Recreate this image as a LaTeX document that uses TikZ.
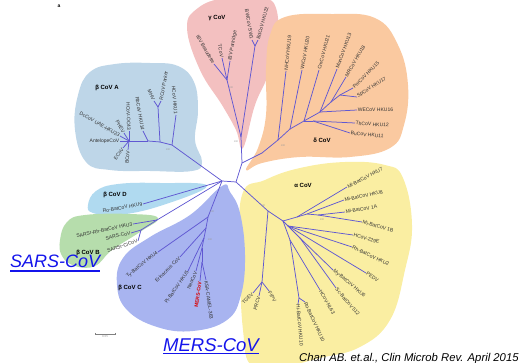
\documentclass[tikz,border=0pt]{standalone}
\usepackage{fontspec}
\setmainfont{Liberation Sans}
\usetikzlibrary{positioning}
\definecolor{treeline}{RGB}{96,88,210}
\definecolor{cladeA}{RGB}{190,214,232}
\definecolor{cladeGam}{RGB}{243,192,192}
\definecolor{cladeDel}{RGB}{250,201,160}
\definecolor{cladeAlp}{RGB}{250,238,162}
\definecolor{cladeD}{RGB}{176,218,240}
\definecolor{cladeB}{RGB}{182,221,172}
\definecolor{cladeC}{RGB}{168,180,240}
\definecolor{linkblue}{RGB}{20,20,235}
\tikzset{
    branch/.style={draw=treeline, line width=0.75pt},
    leafL/.style={anchor=west, inner sep=0.6pt, text=black!80, font=\fontsize{5}{5}\selectfont},
    leafR/.style={anchor=east, inner sep=0.6pt, text=black!80, font=\fontsize{5}{5}\selectfont},
    grouplabel/.style={inner sep=0pt, font=\bfseries\fontsize{6}{6}\selectfont},
    boot/.style={inner sep=0pt, text=black!40, font=\fontsize{2.5}{2.5}\selectfont},
    bigname/.style={anchor=base west, inner sep=0pt, text=linkblue, font=\itshape\fontsize{#1}{#1}\selectfont},
    bigname/.default={18}
}
\begin{document}
\begin{tikzpicture}[x=1pt, y=-1pt]
    \useasboundingbox (0,0) rectangle (523,363);
    % clade backgrounds
    \fill[cladeA] plot[smooth cycle, tension=0.7] coordinates {(75,130) (78,95) (90,72) (115,64) (150,63) (178,66) (194,82) (198,110) (195,140) (202,162) (192,171) (150,171) (110,170) (86,162)};
    \fill[cladeGam] plot[smooth cycle, tension=0.7] coordinates {(187,28) (198,8) (225,-2) (262,-2) (276,8) (277,40) (268,75) (255,105) (243,148) (236,130) (222,105) (200,70)};
    \fill[cladeDel] plot[smooth cycle, tension=0.7] coordinates {(270,35) (285,17) (330,14) (375,18) (398,45) (408,85) (404,125) (390,148) (350,157) (300,157) (262,163) (246,170) (258,148) (266,115) (266,70)};
    \fill[cladeAlp] plot[smooth cycle, tension=0.7] coordinates {(242,195) (265,180) (300,168) (345,162) (385,165) (403,178) (412,225) (405,270) (390,320) (360,347) (320,358) (285,366) (252,366) (243,330) (240,260)};
    \fill[cladeD] plot[smooth cycle, tension=0.7] coordinates {(88,205) (96,191) (118,184) (160,183) (207,186) (160,206) (118,215) (93,213)};
    \fill[cladeB] plot[smooth cycle, tension=0.7] coordinates {(60,240) (67,222) (85,215) (130,214) (158,218) (140,232) (112,250) (95,266) (75,266) (62,256)};
    \fill[cladeC] plot[smooth cycle, tension=0.7] coordinates {(222,186) (190,215) (150,237) (123,258) (117,285) (127,310) (157,327) (193,331) (227,320) (241,295) (245,255) (240,213) (230,192)};

    % root and inner nodes
    \coordinate (r1) at (222,181);
    \coordinate (r2) at (236,182);
    \coordinate (gd) at (242,163);
    \coordinate (a1) at (172,145);
    \coordinate (a2) at (160,142);
    \coordinate (a3) at (158,107);
    \coordinate (a4) at (148,141);
    \coordinate (a5) at (129,141);
    \coordinate (b1) at (157,220);
    \coordinate (b2) at (141,230);
    \coordinate (c1) at (208,217);
    \coordinate (c2) at (206,228);
    \coordinate (c3) at (204,238);
    \coordinate (c4) at (202,248);
    \coordinate (c5) at (202,262);
    \coordinate (g1) at (241,137);
    \coordinate (g2) at (227,80);
    \coordinate (g3) at (255,46);
    \coordinate (d0) at (262,153);
    \coordinate (d1) at (278,140);
    \coordinate (d2) at (290,129);
    \coordinate (d3) at (304,121);
    \coordinate (d4) at (313,121);
    \coordinate (d5) at (320,112);
    \coordinate (d6) at (331,102);
    \coordinate (d7) at (340,95);
    \coordinate (al1) at (268,211);
    \coordinate (al2) at (262,282);
    \coordinate (al4) at (283,221);
    \coordinate (al5) at (297,217);
    \coordinate (al6) at (307,214);
    \coordinate (al7) at (318,215);
    \coordinate (al8) at (288,226);
    \coordinate (al9) at (300,238);
    \coordinate (al10) at (290,240);
    \coordinate (al11) at (299,298);

    % leaves
    \coordinate (lHKU1) at (176,115);
    \coordinate (lMHV) at (154,101);
    \coordinate (lRCoV) at (161,101);
    \coordinate (lRb) at (143,131);
    \coordinate (lOC43) at (129,131);
    \coordinate (lPHEV) at (124,133);
    \coordinate (lDc) at (120,136);
    \coordinate (lAnt) at (120,141);
    \coordinate (lECoV) at (123,148);
    \coordinate (lBCoV) at (128,150);
    \coordinate (lHKU9) at (143,204);
    \coordinate (lHKU3) at (133,224);
    \coordinate (lSARS) at (131,233);
    \coordinate (lCiv) at (138,241);
    \coordinate (lTy) at (158,252);
    \coordinate (lErin) at (180,257);
    \coordinate (lPi) at (188,271);
    \coordinate (lNeo) at (196,271);
    \coordinate (lMERS) at (200,281);
    \coordinate (lKSA) at (206,280);
    \coordinate (lBeau) at (214,64);
    \coordinate (lTCoV) at (222,58);
    \coordinate (lPart) at (230,61);
    \coordinate (lBW) at (252,40);
    \coordinate (lBd) at (258,40);
    \coordinate (lNH) at (286,71);
    \coordinate (lWi) at (302,70);
    \coordinate (lCm) at (319,70);
    \coordinate (lMun) at (337,69);
    \coordinate (lMR) at (346,77);
    \coordinate (lPor) at (353,88);
    \coordinate (lSp) at (357,97);
    \coordinate (lWE) at (357,110);
    \coordinate (lTh) at (355,123);
    \coordinate (lBu) at (350,133);
    \coordinate (lTGEV) at (253,293);
    \coordinate (lPRCV) at (259,296);
    \coordinate (lFIPV) at (269,291);
    \coordinate (lHKU7) at (347,187);
    \coordinate (lHKU8) at (344,200);
    \coordinate (l1A) at (345,212);
    \coordinate (l1B) at (362,222);
    \coordinate (l229E) at (353,235);
    \coordinate (lHKU2) at (352,247);
    \coordinate (lPEDV) at (366,273);
    \coordinate (lHKU6) at (333,270);
    \coordinate (l512) at (336,288);
    \coordinate (lNL63) at (320,290);
    \coordinate (lHi) at (298,304);
    \coordinate (lRo) at (305,302);

    % branches
    \foreach \u/\v in {r1/r2, r1/a1, a1/lHKU1, a1/a2, a2/a3, a3/lMHV, a3/lRCoV, a2/a4, a4/lRb, a4/a5,
        a5/lOC43, a5/lPHEV, a5/lDc, a5/lAnt, a5/lECoV, a5/lBCoV,
        r1/lHKU9, r1/b1, b1/lHKU3, b1/b2, b2/lSARS, b2/lCiv,
        r1/c1, c1/lTy, c1/c2, c2/lErin, c2/c3, c3/lPi, c3/c4, c4/lNeo, c4/c5, c5/lMERS, c5/lKSA,
        r2/gd, gd/g1, g1/g2, g1/g3, g2/lBeau, g2/lTCoV, g2/lPart, g3/lBW, g3/lBd,
        gd/d0, d0/d1, d1/d2, d2/d3, d3/d4, d3/d5, d5/d6, d6/d7,
        d1/lNH, d2/lWi, d3/lCm, d4/lTh, d4/lBu, d5/lWE, d5/lMun, d6/lMR, d7/lPor, d7/lSp,
        r2/al1, al1/al2, al2/lTGEV, al2/lPRCV, al2/lFIPV,
        al1/al4, al4/al5, al5/lHKU7, al5/al6, al6/lHKU8, al6/al7, al7/l1A, al7/l1B,
        al4/al8, al8/l229E, al8/lHKU2, al8/lPEDV, al8/al9, al9/lHKU6, al9/l512,
        al4/al10, al10/lNL63, al10/al11, al11/lHi, al11/lRo}
        \draw[branch] (\u) -- (\v);

    % bootstrap values
    \foreach \x/\y [count=\i] in {236/142, 231/88, 283/146, 263/206, 322/220, 212/212, 210/240, 168/150}
        \node[boot] (bs\i) at (\x,\y) {100};

    % labels, beta A
    \node[leafR, rotate=-85] (tHKU1) at (lHKU1) {HCoV HKU1};
    \node[leafR, rotate=-65] (tMHV) at (lMHV) {MHV};
    \node[leafL, rotate=80] (tRCoV) at (lRCoV) {RCoV Parker};
    \node[leafR, rotate=-80] (tRb) at (lRb) {RbCoV HKU14};
    \node[leafR, rotate=-88] (tOC43) at (lOC43) {HCoV-OC43};
    \node[leafR, rotate=-60] (tPHEV) at (lPHEV) {PHEV};
    \node[leafR, rotate=-30] (tDc) at (lDc) {DcCoV UAE-HKU23};
    \node[leafR] (tAnt) at (lAnt) {AntelopeCoV};
    \node[leafR, rotate=55] (tECoV) at (lECoV) {ECoV};
    \node[leafR, rotate=85] (tBCoV) at (lBCoV) {BCoV};
    % beta D, B, C
    \node[leafR, rotate=10] (tHKU9) at (lHKU9) {Ro-BatCoV HKU9};
    \node[leafR, rotate=12] (tHKU3) at (lHKU3) {SARSr-Rh-BatCoV HKU3};
    \node[leafR, rotate=12] (tSARS) at (lSARS) {SARS-CoV};
    \node[leafR, rotate=18] (tCiv) at (lCiv) {SARSr-CiCoV};
    \node[leafR, rotate=39] (tTy) at (lTy) {Ty-BatCoV HKU4};
    \node[leafR, rotate=45] (tErin) at (lErin) {Erinaceus CoV};
    \node[leafR, rotate=55] (tPi) at (lPi) {Pi-BatCoV HKU5};
    \node[leafR, rotate=68] (tNeo) at (lNeo) {NeoCoV};
    \node[leafR, rotate=82, text=red!85!black, font=\bfseries\fontsize{5}{5}\selectfont] (tMERS) at (lMERS) {MERS-CoV};
    \node[leafL, rotate=-82] (tKSA) at (lKSA) {KSA-CAMEL-363};
    % gamma
    \node[leafR, rotate=-60] (tBeau) at (lBeau) {IBV Beaudette};
    \node[leafR, rotate=-80] (tTCoV) at (lTCoV) {TCoV};
    \node[leafL, rotate=80] (tPart) at (lPart) {IBV Partridge};
    \node[leafR, rotate=-80] (tBW) at (lBW) {BWCoV SW1};
    \node[leafL, rotate=75] (tBd) at (lBd) {BdCoV HKU22};
    % delta
    \node[leafL, rotate=84] (tNH) at (lNH) {NHCoV HKU19};
    \node[leafL, rotate=80] (tWi) at (lWi) {WiCoV HKU20};
    \node[leafL, rotate=75] (tCm) at (lCm) {CmCoV HKU21};
    \node[leafL, rotate=70] (tMun) at (lMun) {MunCoV HKU13};
    \node[leafL, rotate=60] (tMR) at (lMR) {MRCoV HKU18};
    \node[leafL, rotate=45] (tPor) at (lPor) {PorCoV HKU15};
    \node[leafL, rotate=32] (tSp) at (lSp) {SpCoV HKU17};
    \node[leafL] (tWE) at (lWE) {WECoV HKU16};
    \node[leafL, rotate=-4] (tTh) at (lTh) {ThCoV HKU12};
    \node[leafL, rotate=-6] (tBu) at (lBu) {BuCoV HKU11};
    % alpha
    \node[leafR, rotate=45] (tTGEV) at (lTGEV) {TGEV};
    \node[leafR, rotate=75] (tPRCV) at (lPRCV) {PRCV};
    \node[leafL, rotate=-60] (tFIPV) at (lFIPV) {FIPV};
    \node[leafL, rotate=27] (tHKU7) at (lHKU7) {Mi-BatCoV HKU7};
    \node[leafL, rotate=12] (tHKU8) at (lHKU8) {Mi-BatCoV HKU8};
    \node[leafL, rotate=10] (t1A) at (l1A) {Mi-BatCoV 1A};
    \node[leafL, rotate=-15] (t1B) at (l1B) {Mi-BatCoV 1B};
    \node[leafL, rotate=-15] (t229E) at (l229E) {HCoV-229E};
    \node[leafL, rotate=-25] (tHKU2) at (lHKU2) {Rh-BatCoV HKU2};
    \node[leafL, rotate=-32] (tPEDV) at (lPEDV) {PEDV};
    \node[leafL, rotate=-40] (tHKU6) at (lHKU6) {My-BatCoV HKU6};
    \node[leafL, rotate=-50] (t512) at (l512) {Sc-BatCoV 512};
    \node[leafL, rotate=-60] (tNL63) at (lNL63) {HCoV-NL63};
    \node[leafL, rotate=-85] (tHi) at (lHi) {Hi-BatCoV HKU10};
    \node[leafL, rotate=-65] (tRo) at (lRo) {Ro-BatCoV HKU10};

    % clade names
    \node[grouplabel] (nA) at (107,88) {β CoV A};
    \node[grouplabel] (nGam) at (217,18) {γ CoV};
    \node[grouplabel] (nDel) at (322,140) {δ CoV};
    \node[grouplabel] (nAlp) at (303,185) {α CoV};
    \node[grouplabel] (nD) at (115,195) {β CoV D};
    \node[grouplabel] (nB) at (88,253) {β CoV B};
    \node[grouplabel] (nC) at (130,288) {β CoV C};

    % panel letter and scale bar
    \node[inner sep=0pt, font=\bfseries\fontsize{5}{5}\selectfont] (panel) at (59,6) {a};
    \coordinate (sb1) at (95,334);
    \coordinate (sb2) at (115,334);
    \coordinate (sbm) at (105,334);
    \draw[black!50, line width=0.4pt] (sb1) -- (sb2);
    \draw[black!50, line width=0.4pt] ([yshift=1pt]sb1) -- ([yshift=-1pt]sb1);
    \draw[black!50, line width=0.4pt] ([yshift=1pt]sb2) -- ([yshift=-1pt]sb2);
    \node[boot, below=1pt of sbm, font=\fontsize{3}{3}\selectfont] (sbl) {0.05};

    % big names and source
    \node[bigname] (sars) at (10,268) {SARS-CoV};
    \draw[linkblue, line width=1.1pt] ([yshift=-3pt]sars.base west) -- ([yshift=-3pt]sars.base east);
    \node[bigname=18.5] (mers) at (163,351.5) {MERS-CoV};
    \draw[linkblue, line width=1.1pt] ([yshift=-2pt]mers.base west) -- ([yshift=-2pt]mers.base east);
    \node[anchor=base west, inner sep=0pt, font=\itshape\fontsize{11.3}{11.3}\selectfont] (src) at (299,362) {Chan AB. et.al., Clin Microb Rev. April 2015};
\end{tikzpicture}
\end{document}
